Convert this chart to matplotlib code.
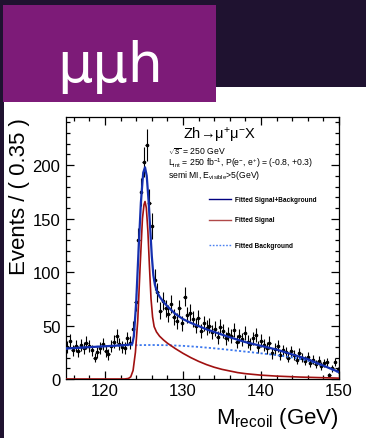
import matplotlib
matplotlib.use("Agg")
import matplotlib.pyplot as plt
from matplotlib.patches import Rectangle
from matplotlib.ticker import MultipleLocator
import numpy as np

# recoil mass histogram, 0.35 GeV bins from 115 to 150 GeV
bin_width = 0.35
counts = [30, 36, 27, 31, 26, 32, 29, 34, 31, 27,
          20, 25, 29, 33, 26, 23, 31, 35, 40, 33,
          30, 29, 38, 34, 47, 72, 130, 175, 203, 219,
          165, 143, 93, 81, 64, 73, 66, 61, 70, 58,
          54, 66, 52, 77, 60, 62, 56, 50, 57, 45,
          52, 48, 50, 44, 47, 39, 49, 45, 38, 42,
          40, 46, 35, 40, 37, 43, 35, 33, 38, 41,
          30, 36, 32, 29, 34, 24, 28, 31, 22, 27,
          25, 20, 26, 22, 18, 24, 20, 17, 21, 15,
          18, 14, 17, 12, 15, 16, 4, 10, 16, 8]

# fitted curves
total_x = [115, 118, 121, 123.0, 123.5, 123.7, 124.0, 124.3, 124.6, 124.9,
           125.13, 125.35, 125.6, 125.8, 126.0, 126.2, 126.4, 126.7, 127.0, 127.5,
           128, 129, 130, 131, 132, 133, 134, 136, 138, 140,
           142, 144, 146, 148, 150]
total_y = [28.5, 29.8, 31, 32, 33, 40, 72, 120, 165, 193,
           198, 190, 165, 140, 115, 97, 88, 81, 77, 72,
           68, 61, 56, 52.5, 49.5, 46.5, 44, 39, 34.5, 31,
           27.5, 23, 18.5, 12.5, 6.5]

signal_x = [115, 122.5, 123.0, 123.3, 123.6, 123.9, 124.2, 124.5, 124.8, 125.0,
            125.13, 125.3, 125.5, 125.7, 125.9, 126.1, 126.3, 126.6, 127.0, 127.5,
            128, 129, 130, 131, 132, 133, 134, 135, 136, 137,
            138, 140, 142, 145, 150]
signal_y = [0, 0, 0.5, 2, 8, 25, 55, 105, 150, 163,
            166, 160, 138, 105, 75, 58, 49, 44, 40, 36.5,
            33.5, 28.5, 24, 20, 16.5, 13.5, 11, 9, 7.5, 6,
            5, 3.6, 2.7, 1.8, 0.8]

bkg_x = [115, 118, 121, 123.5, 126, 128, 130, 132, 134, 136,
         138, 140, 142, 144, 146, 148, 150]
bkg_y = [28.5, 29.8, 31, 31.6, 31.8, 31.6, 31, 30, 28.7, 27.2,
         25.6, 24, 22.3, 20.2, 17.2, 12.5, 6]

plt.rcParams['font.family'] = ['Liberation Sans', 'DejaVu Sans']
plt.rcParams['mathtext.fontset'] = 'custom'
plt.rcParams['mathtext.rm'] = 'Liberation Sans'
plt.rcParams['mathtext.it'] = 'Liberation Sans:italic'
plt.rcParams['mathtext.bf'] = 'Liberation Sans:bold'

W, H = 366, 439
fig = plt.figure(figsize=(W / 100, H / 100), dpi=100, facecolor='#1f1230')

# white slide panel and purple title box (pixel coords)
fig.patches.append(Rectangle((3.5, 0), W - 3.5, H - 88, transform=None,
                             facecolor='white', edgecolor='none', zorder=-2))
fig.patches.append(Rectangle((2.5, H - 102.5), 213, 96.5, transform=None,
                             facecolor='#7d1b78', edgecolor='none', zorder=-1))
fig.text(110 / W, (H - 82) / H, 'μμh', color='white', fontsize=40,
         family='DejaVu Sans', ha='center', va='baseline')

ax = fig.add_axes([66 / W, (H - 380) / H, (339 - 66) / W, (380 - 118) / H])
ax.set_zorder(2)

edges = 115 + bin_width * np.arange(len(counts) + 1)
centers = 0.5 * (edges[:-1] + edges[1:])
counts = np.array(counts, dtype=float)
ax.errorbar(centers, counts, yerr=np.sqrt(counts), xerr=bin_width / 2,
            fmt='o', ms=1.6, color='black', ecolor='black', elinewidth=0.8,
            capsize=0, zorder=3)

ax.plot(bkg_x, bkg_y, color='#3c78ee', lw=1.3, ls=(0, (1.2, 1.2)), zorder=4)
ax.plot(signal_x, signal_y, color='#a01010', lw=1.2, zorder=5)
ax.plot(total_x, total_y, color='#1530b0', lw=1.6, zorder=6)

ax.set_xlim(115, 150)
ax.set_ylim(0, 245)
ax.xaxis.set_major_locator(MultipleLocator(10))
ax.xaxis.set_minor_locator(MultipleLocator(2))
ax.yaxis.set_major_locator(MultipleLocator(50))
ax.yaxis.set_minor_locator(MultipleLocator(10))
ax.tick_params(which='both', direction='in', top=True, right=True,
               width=0.9, labelsize=12)
ax.tick_params(which='major', length=5.5)
ax.tick_params(which='minor', length=3.2)
ax.tick_params(axis='x', pad=3)
ax.tick_params(axis='y', pad=4)
for s in ax.spines.values():
    s.set_linewidth(0.9)

ax.set_ylabel('Events / ( 0.35 )', fontsize=16, loc='top', labelpad=2)
ax.set_xlabel(r'M$_{\rm recoil}$ (GeV)', fontsize=16, loc='right', labelpad=5)

# process / luminosity labels
ax.text(0.428, 0.933, r'Zh→$\mathrm{\mu^{+}\mu^{-}}$X', transform=ax.transAxes,
        fontsize=10.5, va='center')
ax.text(0.375, 0.873, r'$\sqrt{s}$ = 250 GeV', transform=ax.transAxes,
        fontsize=6.2, va='center')
ax.text(0.375, 0.829, r'L$_{\rm int}$ = 250 fb$^{-1}$, P(e$^{-}$, e$^{+}$) = (-0.8, +0.3)',
        transform=ax.transAxes, fontsize=6.2, va='center')
ax.text(0.375, 0.781, r'semi MI, E$_{\rm visible}$>5(GeV)', transform=ax.transAxes,
        fontsize=6.2, va='center')

# legend
leg_rows = [('Fitted Signal+Background', '#000080', '-'),
            ('Fitted Signal', '#b04848', '-'),
            ('Fitted Background', '#4a80f0', (0, (1.2, 1.2)))]
leg_y = [0.687, 0.607, 0.511]
for (label, col, ls), yy in zip(leg_rows, leg_y):
    ax.plot([0.524, 0.604], [yy, yy], transform=ax.transAxes, color=col,
            ls=ls, lw=1.0, clip_on=False)
    ax.text(0.618, yy, label, transform=ax.transAxes, fontsize=4.7,
            fontweight='bold', va='center')

fig.savefig('out.png', dpi=100, facecolor=fig.get_facecolor())
